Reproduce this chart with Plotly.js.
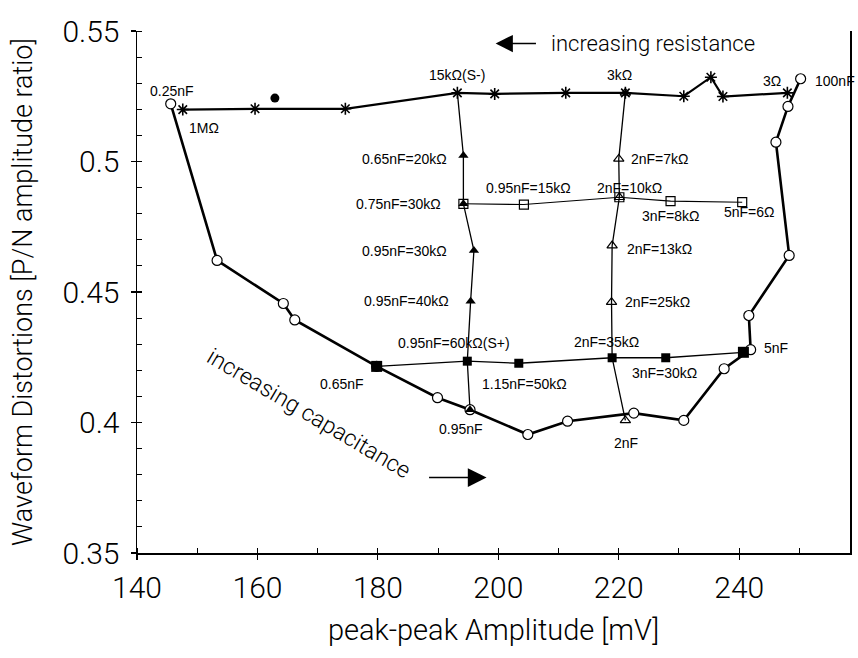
<!DOCTYPE html>
<html>
<head>
<meta charset="utf-8">
<script src="https://cdn.plot.ly/plotly-3.0.1.min.js"></script>
<style>html,body{margin:0;padding:0;background:#fff;}#chart{width:858px;height:658px;}</style>
</head>
<body>
<div id="chart"></div>
<script>
// capacitance sweep (open circles, thick line)
var capX = [145.6, 153.3, 164.3, 166.2, 179.8, 189.9, 195.3, 204.9, 211.5, 222.5, 230.8, 237.5, 241.9, 241.6, 248.3, 246.1, 248.1, 250.2];
var capY = [0.5221, 0.4621, 0.4456, 0.4393, 0.4215, 0.4095, 0.4049, 0.3954, 0.4005, 0.4036, 0.4008, 0.4206, 0.4279, 0.441, 0.464, 0.5074, 0.5211, 0.5317];
// resistance sweep (asterisks, thick line)
var resX = [147.6, 159.6, 174.6, 193.2, 199.4, 211.2, 221.1, 230.8, 235.3, 237.3, 248.0];
var resY = [0.5199, 0.5202, 0.5202, 0.5263, 0.5259, 0.5263, 0.5263, 0.5250, 0.5323, 0.5249, 0.5263];
// S+ row (filled squares)
var spX = [179.8, 194.85, 203.4, 218.9, 227.8, 240.7];
var spY = [0.4215, 0.4235, 0.4227, 0.4248, 0.4248, 0.4269];
// open square row
var osX = [194.2, 204.25, 220.1, 228.6, 240.5];
var osY = [0.4838, 0.4835, 0.4863, 0.4848, 0.4844];
// 0.95nF column (filled triangles)
var c95X = [193.2, 194.2, 194.2, 195.95, 195.4, 194.85, 195.3];
var c95Y = [0.5263, 0.5023, 0.4838, 0.4659, 0.4465, 0.4235, 0.4049];
var t95X = [194.2, 194.2, 195.95, 195.4, 195.3];
var t95Y = [0.5023, 0.4838, 0.4659, 0.4465, 0.4049];
// 2nF column (open triangles)
var c2X = [221.1, 220.0, 220.1, 218.9, 218.8, 218.9, 221.1];
var c2Y = [0.5263, 0.5010, 0.4863, 0.4678, 0.4461, 0.4248, 0.4008];
var t2X = [221.1, 220.0, 220.1, 218.9, 218.8, 221.1];
var t2Y = [0.5263, 0.5010, 0.4863, 0.4678, 0.4461, 0.4008];
// single filled circle
var dotX = [162.9];
var dotY = [0.5243];

var xTicks = [140, 160, 180, 200, 220, 240];
var yTicks = [0.35, 0.4, 0.45, 0.5, 0.55];
var yTickText = ['0.35', '0.4', '0.45', '0.5', '0.55'];

var K = 'black';
var traces = [
  {x: c95X, y: c95Y, mode: 'lines', line: {color: K, width: 1.3}, hoverinfo: 'skip'},
  {x: c2X, y: c2Y, mode: 'lines', line: {color: K, width: 1.3}, hoverinfo: 'skip'},
  {x: spX, y: spY, mode: 'lines+markers', line: {color: K, width: 1.3}, marker: {symbol: 'square', size: 9, color: K}},
  {x: osX, y: osY, mode: 'lines+markers', line: {color: K, width: 1.1}, marker: {symbol: 'square-open', size: 9, color: K, line: {width: 1.2}}},
  {x: capX, y: capY, mode: 'lines+markers', line: {color: K, width: 2.6}, marker: {symbol: 'circle', size: 10, color: 'white', line: {color: K, width: 1.2}}},
  {x: spX.slice(0,1).concat(spX.slice(5)), y: spY.slice(0,1).concat(spY.slice(5)), mode: 'markers', marker: {symbol: 'square', size: 11, color: K}},
  {x: resX, y: resY, mode: 'lines+markers', line: {color: K, width: 2.2}, marker: {symbol: 'asterisk-open', size: 10, color: K, line: {color: K, width: 1.6}}},
  {x: t95X, y: t95Y, mode: 'markers', marker: {symbol: 'triangle-up', size: 9, color: K}},
  {x: t2X, y: t2Y, mode: 'markers', marker: {symbol: 'triangle-up-open', size: 9, color: K, line: {color: K, width: 1.2}}},
  {x: dotX, y: dotY, mode: 'markers', marker: {symbol: 'circle', size: 9, color: K}}
];

var F = 'Liberation Sans, Arial, sans-serif';
var FL = 'Roboto, Liberation Sans, Arial, sans-serif';
function lab(t, x, y, anchor) {
  return {text: t, x: x, y: y, xref: 'x', yref: 'y', showarrow: false, xanchor: anchor || 'center', yanchor: 'middle', font: {family: F, size: 14, color: K}};
}
var ann = [
  lab('0.25nF', 145.73, 0.5272),
  lab('1MΩ', 151.05, 0.5130),
  lab('15kΩ(S-)', 193.16, 0.5330),
  lab('3kΩ', 220.07, 0.5330),
  lab('3Ω', 245.5, 0.5307),
  lab('100nF', 252.2, 0.5310, 'left'),
  lab('0.65nF=20kΩ', 191.74, 0.5011, 'right'),
  lab('0.75nF=30kΩ', 190.75, 0.4839, 'right'),
  lab('0.95nF=15kΩ', 205.03, 0.4900),
  lab('2nF=10kΩ', 221.81, 0.4900),
  lab('2nF=7kΩ', 221.64, 0.5011, 'left'),
  lab('3nF=8kΩ', 228.62, 0.4793),
  lab('5nF=6Ω', 241.74, 0.4805),
  lab('0.95nF=30kΩ', 191.74, 0.4659, 'right'),
  lab('2nF=13kΩ', 220.98, 0.4663, 'left'),
  lab('0.95nF=40kΩ', 192.08, 0.4467, 'right'),
  lab('2nF=25kΩ', 220.65, 0.4460, 'left'),
  lab('0.95nF=60kΩ(S+)', 192.57, 0.4303),
  lab('2nF=35kΩ', 217.99, 0.4307),
  lab('1.15nF=50kΩ', 204.37, 0.4149),
  lab('3nF=30kΩ', 227.54, 0.4188),
  lab('0.65nF', 173.97, 0.4149),
  lab('0.95nF', 193.74, 0.3977),
  lab('2nF', 221.15, 0.3920),
  lab('5nF', 246.07, 0.4287),
  {text: 'increasing resistance', x: 208.36, y: 0.5452, xref: 'x', yref: 'y', showarrow: false, xanchor: 'left', yanchor: 'middle', font: {family: FL, weight: 300, size: 22, color: K}},
  {text: '', x: 199.55, y: 0.5452, ax: 206.5, ay: 0.5452, xref: 'x', yref: 'y', axref: 'x', ayref: 'y', showarrow: true, arrowhead: 2, arrowsize: 2.3, arrowwidth: 1.5, arrowcolor: K},
  {text: 'increasing capacitance', x: 168.5, y: 0.4034, xref: 'x', yref: 'y', showarrow: false, textangle: 30.6, font: {family: FL, weight: 300, size: 23, color: K}},
  {text: '', x: 198.05, y: 0.3789, ax: 188.25, ay: 0.3789, xref: 'x', yref: 'y', axref: 'x', ayref: 'y', showarrow: true, arrowhead: 2, arrowsize: 2.5, arrowwidth: 1.5, arrowcolor: K}
];

var xr = [140, 258.4], yr = [0.35, 0.55];
var layout = {
  width: 858, height: 658,
  margin: {l: 137, r: 8, t: 31, b: 105},
  paper_bgcolor: 'white', plot_bgcolor: 'white',
  showlegend: false,
  font: {family: F, color: K},
  xaxis: {range: xr, tickvals: xTicks, ticktext: xTicks.map(String), ticks: 'outside', ticklen: 5, tickwidth: 1.2, tickcolor: K,
          ticklabelstandoff: 2,
          showline: true, linecolor: K, linewidth: 1.5, showgrid: false, zeroline: false, mirror: false,
          minor: {dtick: 10, tick0: 140, ticks: 'inside', ticklen: 5, tickcolor: K, tickwidth: 1},
          tickfont: {family: FL, weight: 300, size: 30, color: K},
          title: {text: 'peak-peak Amplitude [mV]', font: {family: FL, weight: 300, size: 29, color: K}, standoff: 16}},
  yaxis: {range: yr, tickvals: yTicks, ticktext: yTickText, ticks: 'outside', ticklen: 5, tickwidth: 1.2, tickcolor: K,
          ticklabelstandoff: 5,
          showline: true, linecolor: K, linewidth: 1.5, showgrid: false, zeroline: false, mirror: true,
          minor: {dtick: 0.01, tick0: 0.35, ticks: 'inside', ticklen: 5, tickcolor: K, tickwidth: 1},
          tickfont: {family: FL, weight: 300, size: 30, color: K},
          title: {text: 'Waveform Distortions [P/N amplitude ratio]', font: {family: FL, weight: 300, size: 27, color: K}, standoff: 22}},
  xaxis2: {range: xr, overlaying: 'x', tickvals: xTicks, ticks: 'inside', ticklen: 5, tickwidth: 1.2, tickcolor: K, showticklabels: false, showline: false, showgrid: false, zeroline: false},
  yaxis2: {range: yr, overlaying: 'y', tickvals: yTicks, ticks: 'inside', ticklen: 5, tickwidth: 1.2, tickcolor: K, showticklabels: false, showline: false, showgrid: false, zeroline: false},
  annotations: ann
};
traces.push({x: [xr[0]], y: [yr[0]], xaxis: 'x2', yaxis: 'y2', mode: 'markers', marker: {opacity: 0}, hoverinfo: 'skip'});
Plotly.newPlot('chart', traces, layout, {staticPlot: true});
</script>
</body>
</html>
